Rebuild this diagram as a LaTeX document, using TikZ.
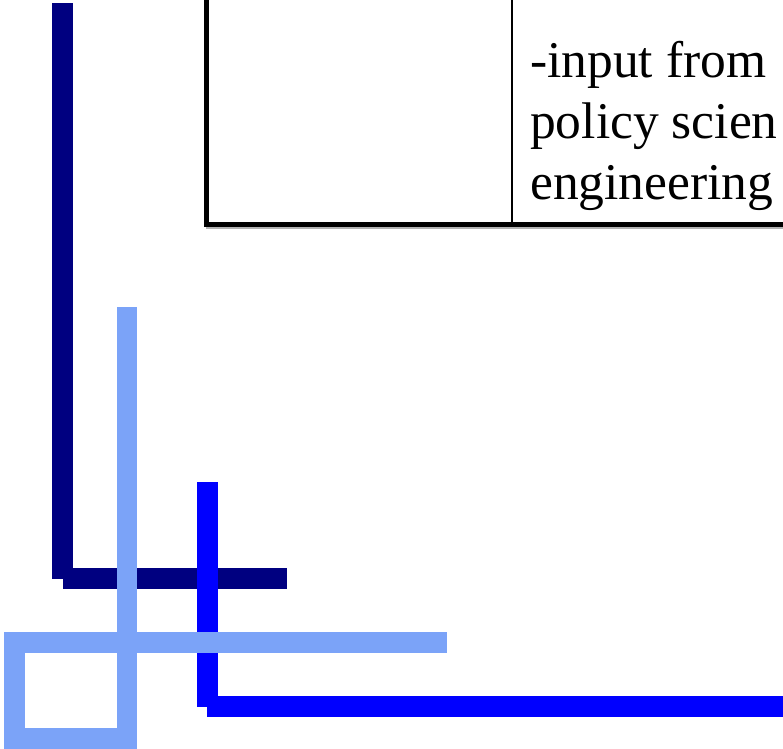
\documentclass[tikz,border=0pt]{standalone}
\usepackage{fontspec}
\setmainfont{Liberation Serif}
\definecolor{barnavy}{HTML}{000080}
\definecolor{barblue}{HTML}{0000FF}
\definecolor{barlight}{HTML}{7BA3F8}
\tikzset{
  navybar/.style={fill=barnavy},
  bluebar/.style={fill=barblue},
  lightbar/.style={fill=barlight},
  rule/.style={draw=black, line cap=rect},
  celltext/.style={anchor=base west, inner sep=0pt,
    font=\fontsize{51.5}{61}\selectfont},
}
\begin{document}
\begin{tikzpicture}[x=1pt, y=-1pt]
  \useasboundingbox (0,0) rectangle (783,748);
  \fill[white] (0,0) rectangle (783,748);

  % table frame: outer left edge, bottom edge, column divider
  \draw[gray!60, line width=1.5pt] (206,228) -- (783,228);
  \draw[rule, line width=4.5pt] (206.3,-5) -- (206.3,224.3);
  \draw[rule, line width=4.5pt] (206.3,224.3) -- (790,224.3);
  \draw[black, line width=2pt] (512,-5) -- (512,222);

  % text in the right column, one node per line
  \node[celltext] (line1) at (530,77)  {-input from};
  \node[celltext] (line2) at (530,138) {policy scien};
  \node[celltext] (line3) at (530,199) {engineering};

  % dark navy corner
  \path[navybar] (52,3) rectangle (73,579);
  \path[navybar] (63,568) rectangle (287,589);

  % bright blue corner
  \path[bluebar] (197,482) rectangle (218,707);
  \path[bluebar] (207,696) rectangle (790,717);

  % light blue cross with square
  \path[lightbar] (117,307) rectangle (137,750);
  \path[lightbar] (4,632) rectangle (447,653);
  \path[lightbar] (4,632) rectangle (25,750);
  \path[lightbar] (4,728) rectangle (137,750);
\end{tikzpicture}
\end{document}
